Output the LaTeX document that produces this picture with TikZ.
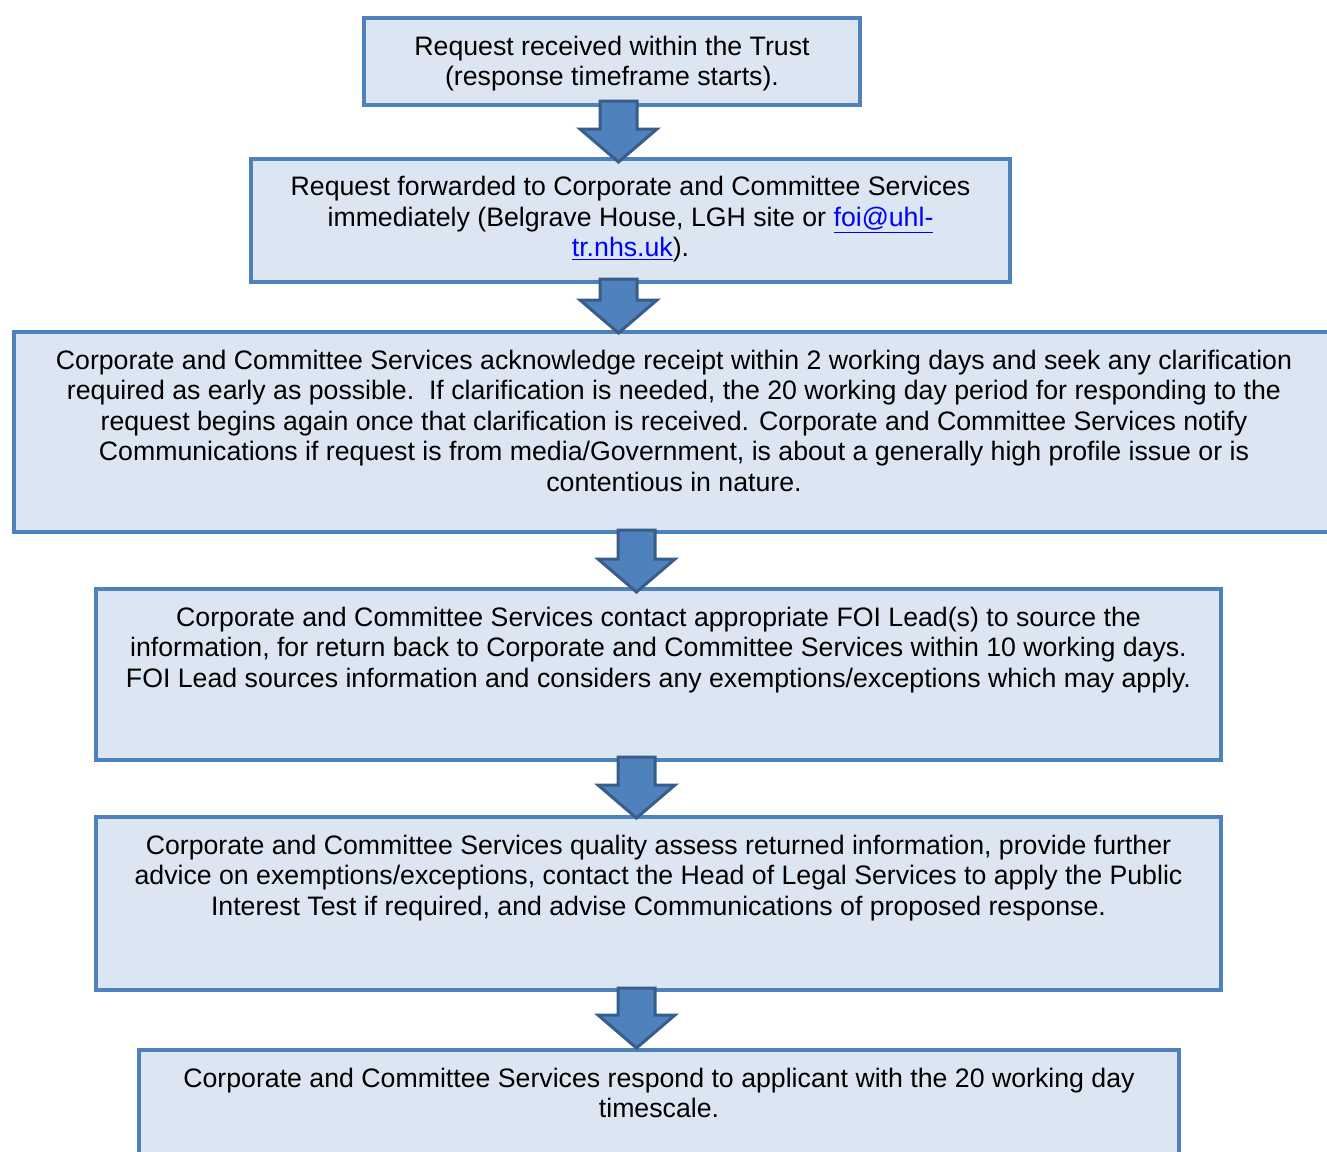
\documentclass[tikz,border=0pt]{standalone}
\usepackage{fontspec}
\setmainfont{Liberation Sans}
\usepackage{tikz}
\usetikzlibrary{calc,fit}
\definecolor{edgec}{HTML}{4F81BD}
\definecolor{fillc}{HTML}{DCE6F2}
\definecolor{arrc}{HTML}{4F81BD}
\definecolor{arrdk}{HTML}{385D8A}
\definecolor{linkc}{HTML}{0000FF}
\newcommand{\maillink}[1]{\textcolor{linkc}{\underline{#1}}}
\newcommand{\downarr}[2]{%
  \draw[blk] ($(#1)+(-18.5,0)$) -- ($(#1)+(18.5,0)$) -- ($(#2)+(18.5,-33)$)
    -- ($(#2)+(38.5,-33)$) -- (#2) -- ($(#2)+(-38.5,-33)$) -- ($(#2)+(-18.5,-33)$) -- cycle;}
\tikzset{
  box/.style={draw=edgec,line width=2pt,fill=fillc,inner sep=0pt},
  txt/.style={align=center,inner sep=0pt,anchor=north,font=\fontsize{13.35}{15.25}\selectfont},
  blk/.style={fill=arrc,draw=arrdk,line width=1.5pt,line join=miter}
}
\begin{document}
\begin{tikzpicture}[x=0.5pt,y=-0.5pt]
\useasboundingbox (0,0) rectangle (1327,1151);
\clip (0,0) rectangle (1327,1151);
\node[box,fit={(364,18) (860,105)}] (b1) {};
\node[box,fit={(251,158.5) (1010,282)}] (b2) {};
\node[box,fit={(14,332) (1334,532)}] (b3) {};
\node[box,fit={(96,589) (1221,760)}] (b4) {};
\node[box,fit={(96,817) (1221,990)}] (b5) {};
\node[box,fit={(139,1050) (1179,1175)}] (b6) {};
\coordinate (a1) at (618.5,101); \coordinate (a1e) at (618.5,162);
\coordinate (a2) at (618.5,279); \coordinate (a2e) at (618.5,333);
\coordinate (a3) at (636.5,530); \coordinate (a3e) at (636.5,592);
\coordinate (a4) at (636.5,757); \coordinate (a4e) at (636.5,818);
\coordinate (a5) at (636.5,988); \coordinate (a5e) at (636.5,1048);
\downarr{a1}{a1e}
\downarr{a2}{a2e}
\downarr{a3}{a3e}
\downarr{a4}{a4e}
\downarr{a5}{a5e}
\node[txt] (t1) at ($(b1.north)+(0,19.5)$) {Request received within the Trust\\(response timeframe starts).};
\node[txt] (t2) at ($(b2.north)+(0,19.5)$) {Request forwarded to Corporate and Committee Services\\immediately (Belgrave House, LGH site or \maillink{foi@uhl-}\\\maillink{tr.nhs.uk}).};
\node[txt] (t3) at ($(b3.north)+(0,19.5)$) {Corporate and Committee Services acknowledge receipt within 2 working days and seek any clarification\\required as early as possible.\ \ If clarification is needed, the 20 working day period for responding to the\\request begins again once that clarification is received. Corporate and Committee Services notify\\Communications if request is from media/Government, is about a generally high profile issue or is\\contentious in nature.};
\node[txt] (t4) at ($(b4.north)+(0,19.5)$) {Corporate and Committee Services contact appropriate FOI Lead(s) to source the\\information, for return back to Corporate and Committee Services within 10 working days.\\FOI Lead sources information and considers any exemptions/exceptions which may apply.};
\node[txt] (t5) at ($(b5.north)+(0,19.5)$) {Corporate and Committee Services quality assess returned information, provide further\\advice on exemptions/exceptions, contact the Head of Legal Services to apply the Public\\Interest Test if required, and advise Communications of proposed response.};
\node[txt] (t6) at ($(b6.north)+(0,19.5)$) {Corporate and Committee Services respond to applicant with the 20 working day\\timescale.};
\end{tikzpicture}
\end{document}
